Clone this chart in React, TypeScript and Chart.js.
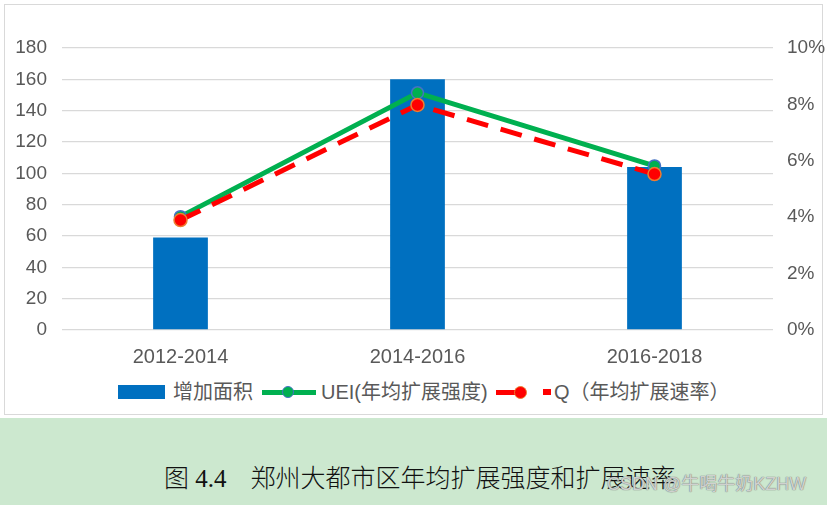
import React, { useEffect, useRef } from "react";
import { Chart, registerables } from "chart.js";

Chart.register(...registerables);

// data
const categories = ["2012-2014", "2014-2016", "2016-2018"];
const addedArea = [59, 160, 104]; // 增加面积 (left axis)
const ueiValues = [4.02, 8.41, 5.82]; // UEI 年均扩展强度 (%)
const qValues = [3.9, 7.98, 5.53]; // Q 年均扩展速率 (%)
const leftTicks = { min: 0, max: 180, step: 20 };
const rightTicks = { min: 0, max: 10, step: 2 };

const LATIN = "'Liberation Sans', 'Noto Sans CJK SC', sans-serif";
const GREY_TEXT = "#595959";

const ChartCanvas: React.FC = () => {
  const canvasRef = useRef<HTMLCanvasElement>(null);
  const chartRef = useRef<Chart | null>(null);

  useEffect(() => {
    if (!canvasRef.current) return;
    if (chartRef.current) chartRef.current.destroy();

    chartRef.current = new Chart(canvasRef.current, {
      type: "bar",
      data: {
        labels: categories,
        datasets: [
          {
            type: "line",
            label: "Q（年均扩展速率）",
            data: qValues,
            yAxisID: "y1",
            borderColor: "#FF0000",
            borderWidth: 5,
            borderDash: [22, 13],
            borderCapStyle: "butt",
            pointRadius: 6.5,
            pointBackgroundColor: "#FF0000",
            pointBorderColor: "#ED7D31",
            pointBorderWidth: 1.5,
            tension: 0,
            order: 0,
          },
          {
            type: "line",
            label: "UEI(年均扩展强度)",
            data: ueiValues,
            yAxisID: "y1",
            borderColor: "#00B050",
            borderWidth: 5,
            pointRadius: 6,
            pointBackgroundColor: "#00B050",
            pointBorderColor: "#4472C4",
            pointBorderWidth: 1.5,
            tension: 0,
            order: 1,
          },
          {
            type: "bar",
            label: "增加面积",
            data: addedArea,
            yAxisID: "y",
            backgroundColor: "#0070C0",
            barPercentage: 0.231,
            categoryPercentage: 1,
            order: 2,
          },
        ],
      },
      options: {
        responsive: false,
        animation: false,
        layout: { padding: { top: 48, left: 0, right: 0, bottom: 0 } },
        plugins: {
          legend: { display: false },
          tooltip: { enabled: false },
        },
        scales: {
          x: {
            grid: { display: false },
            border: { display: false },
            ticks: {
              color: GREY_TEXT,
              padding: 7,
              font: { family: LATIN, size: 20 },
            },
            afterFit: (s: any) => {
              s.height = 45;
            },
          },
          y: {
            position: "left",
            min: leftTicks.min,
            max: leftTicks.max,
            grid: { color: "#D9D9D9", lineWidth: 1.3, drawTicks: false },
            border: { display: false },
            ticks: {
              stepSize: leftTicks.step,
              color: GREY_TEXT,
              padding: 15,
              font: { family: LATIN, size: 19 },
            },
            afterFit: (s: any) => {
              s.width = 62;
            },
          },
          y1: {
            position: "right",
            min: rightTicks.min,
            max: rightTicks.max,
            grid: { display: false, drawTicks: false },
            border: { display: false },
            ticks: {
              stepSize: rightTicks.step,
              color: GREY_TEXT,
              padding: 14,
              font: { family: LATIN, size: 19 },
              callback: (v: any) => `${v}%`,
            },
            afterFit: (s: any) => {
              s.width = 54;
            },
          },
        },
      },
    });

    return () => {
      if (chartRef.current) {
        chartRef.current.destroy();
        chartRef.current = null;
      }
    };
  }, []);

  return (
    <canvas
      ref={canvasRef}
      width={827}
      height={375}
      style={{ position: "absolute", left: 0, top: 0, width: 827, height: 375 }}
    />
  );
};

const legendText: React.CSSProperties = {
  position: "absolute",
  top: 380,
  height: 24,
  lineHeight: "24px",
  fontFamily: LATIN,
  fontSize: 20,
  color: GREY_TEXT,
  whiteSpace: "nowrap",
};

const Legend: React.FC = () => (
  <>
    <div style={{ position: "absolute", left: 118, top: 385, width: 47, height: 14, background: "#0070C0" }} />
    <div style={{ ...legendText, left: 173 }}>增加面积</div>

    <div style={{ position: "absolute", left: 262, top: 389.5, width: 54, height: 5, background: "#00B050" }} />
    <div
      style={{
        position: "absolute",
        left: 282,
        top: 386,
        width: 12,
        height: 12,
        borderRadius: "50%",
        boxSizing: "border-box",
        background: "#00B050",
        border: "1.5px solid #4472C4",
      }}
    />
    <div style={{ ...legendText, left: 321 }}>UEI(年均扩展强度)</div>

    <div style={{ position: "absolute", left: 496, top: 389.5, width: 22, height: 5, background: "#FF0000" }} />
    <div
      style={{
        position: "absolute",
        left: 513.5,
        top: 385.5,
        width: 13,
        height: 13,
        borderRadius: "50%",
        boxSizing: "border-box",
        background: "#FF0000",
        border: "1.5px solid #ED7D31",
      }}
    />
    <div style={{ position: "absolute", left: 543, top: 389, width: 8, height: 6, background: "#FF0000" }} />
    <div style={{ ...legendText, left: 554 }}>Q（年均扩展速率）</div>
  </>
);

const App: React.FC = () => {
  return (
    <div
      style={{
        position: "absolute",
        left: 0,
        top: 0,
        width: 827,
        height: 505,
        background: "#FFFFFF",
        overflow: "hidden",
      }}
    >
      <div
        style={{
          position: "absolute",
          left: 4,
          top: 4,
          width: 819,
          height: 411,
          boxSizing: "border-box",
          border: "1.5px solid #D9D9D9",
        }}
      />
      <ChartCanvas />
      <Legend />

      <div style={{ position: "absolute", left: 0, top: 418, width: 827, height: 87, background: "#CCE8CF" }} />
      <div
        style={{
          position: "absolute",
          left: 164,
          top: 462,
          height: 33,
          lineHeight: "33px",
          fontSize: 25,
          fontWeight: 300,
          color: "#111111",
          fontFamily: "'Liberation Serif', 'Noto Sans CJK SC', serif",
          whiteSpace: "nowrap",
        }}
      >
        图 4.4<span style={{ marginLeft: 24 }}>郑州大都市区年均扩展强度和扩展速率</span>
      </div>
      <div
        style={{
          position: "absolute",
          left: 607,
          top: 473,
          height: 22,
          lineHeight: "22px",
          fontSize: 18,
          color: "rgba(235, 238, 235, 0.75)",
          textShadow: "0 0 1px #7a7a7a, 0 0 1px #7a7a7a",
          fontFamily: LATIN,
          whiteSpace: "nowrap",
        }}
      >
        CSDN @牛喝牛奶KZHW
      </div>
    </div>
  );
};

export default App;
